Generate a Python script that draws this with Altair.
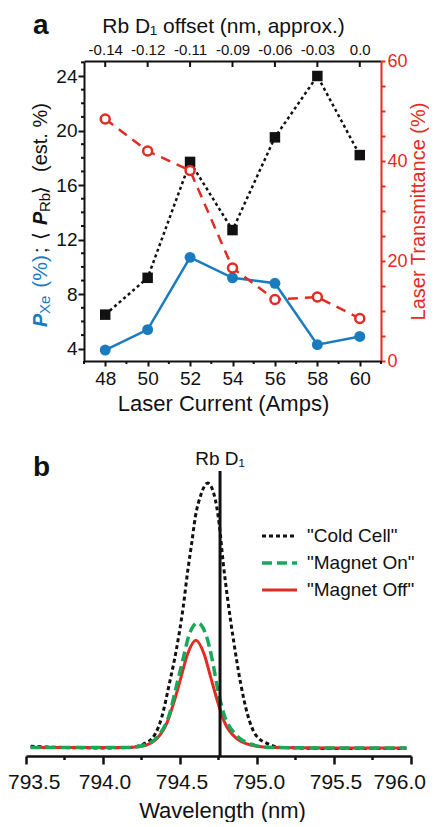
import altair as alt
import pandas as pd

# ---------------- Panel a data ----------------
current = [48, 50, 52, 54, 56, 58, 60]
p_rb = [6.5, 9.2, 17.7, 12.7, 19.5, 24.0, 18.2]
p_xe = [3.9, 5.4, 10.7, 9.2, 8.8, 4.3, 4.9]
transmittance = [48.4, 42.0, 38.1, 18.6, 12.3, 12.8, 8.5]
offset_labels = ["-0.14", "-0.12", "-0.11", "-0.09", "-0.06", "-0.03", "0.0"]
current_minor = [47, 49, 51, 53, 55, 57, 59, 61]
left_major = [4, 8, 12, 16, 20, 24]
left_minor = [5, 6, 7, 9, 10, 11, 13, 14, 15, 17, 18, 19, 21, 22, 23, 25]

# ---------------- Panel b data ----------------
cold_wl = [793.53, 793.80, 794.00, 794.17, 794.30, 794.38, 794.43, 794.475, 794.52, 794.55,
           794.575, 794.60, 794.635, 794.68, 794.72, 794.755, 794.78, 794.81, 794.85, 794.895,
           794.94, 794.99, 795.08, 795.15, 795.50, 795.97]
cold_val = [0.014, 0.009, 0.008, 0.010, 0.034, 0.12, 0.245, 0.37, 0.53, 0.667,
            0.767, 0.87, 0.95, 0.995, 0.955, 0.84, 0.70, 0.56, 0.40, 0.245,
            0.13, 0.058, 0.021, 0.010, 0.006, 0.006]
on_wl = [793.53, 794.00, 794.17, 794.28, 794.366, 794.431, 794.474, 794.517, 794.56, 794.614,
         794.668, 794.711, 794.743, 794.786, 794.862, 794.97, 795.07, 795.50, 795.97]
on_val = [0.010, 0.010, 0.010, 0.021, 0.058, 0.133, 0.232, 0.332, 0.431, 0.474,
          0.431, 0.332, 0.232, 0.133, 0.058, 0.021, 0.010, 0.008, 0.008]
off_wl = [793.53, 794.00, 794.17, 794.258, 794.355, 794.42, 794.463, 794.506, 794.549, 794.603,
          794.657, 794.70, 794.743, 794.786, 794.862, 794.99, 795.10, 795.50, 795.97]
off_val = [0.010, 0.010, 0.010, 0.015, 0.046, 0.108, 0.183, 0.27, 0.357, 0.409,
           0.357, 0.27, 0.183, 0.108, 0.046, 0.015, 0.010, 0.008, 0.008]
rb_d1 = 794.76
series_names = ['"Cold Cell"', '"Magnet On"', '"Magnet Off"']
wl_major = [793.5, 794.0, 794.5, 795.0, 795.5, 796.0]
wl_labels = ["793.5", "794.0", "794.5", "795.0", "795.5", "796.0"]
wl_minor = [793.75, 794.25, 794.75, 795.25, 795.75]

BLACK = "#111111"
BLUE = "#1b7bbf"
RED = "#e12b23"
GREEN = "#17a85a"
FONT = "Liberation Sans"

one = pd.DataFrame({"k": [0]})

# layout (pixels inside the single plot area, origin = top-left of panel a)
H = 695          # from top of panel a to bottom axis of panel b
HA = 300         # panel a height
B0 = 410         # top of panel b


def txt(text, x, y, size=20, color=BLACK, weight="normal", style="normal",
        angle=270, align="left", baseline="alphabetic"):
    return alt.Chart(one).mark_text(text=text, fontSize=size, color=color,
                                    fontWeight=weight, fontStyle=style, angle=angle,
                                    align=align, baseline=baseline, font=FONT).encode(
        x=alt.value(x), y=alt.value(y))


# ================= Panel a =================
df_a = pd.DataFrame({"current": current, "p_rb": p_rb, "p_xe": p_xe, "trans": transmittance})

xs = alt.Scale(domain=[47, 61], nice=False, zero=False)
yl = alt.Scale(domain=[3.1, 25.1], range=[HA, 0], nice=False, zero=False)
yr = alt.Scale(domain=[0, 60], range=[HA, 0], nice=False, zero=True)

bottom_axis = alt.Axis(orient="bottom", offset=-(H - HA), values=current,
                       labelOverlap=False, title="Laser Current (Amps)",
                       titleFontSize=22, titleFontWeight="normal", labelFontSize=19,
                       titleX=139, titleAnchor="middle",
                       tickSize=5, tickWidth=2, domainWidth=2, domainColor=BLACK,
                       tickColor=BLACK, labelColor=BLACK, titleColor=BLACK,
                       labelPadding=3, titlePadding=5, grid=False)
left_axis = alt.Axis(orient="left", values=left_major,
                     labelOverlap=False, title=None, labelFontSize=19,
                     tickSize=6, tickWidth=2, domainWidth=2, domainColor=BLACK,
                     tickColor=BLACK, labelColor=BLACK, labelPadding=1, grid=False)
right_axis = alt.Axis(orient="right", values=list(range(0, 61, 5)),
                      labelExpr="datum.value % 20 == 0 ? datum.label : ''",
                      labelOverlap=False, title="Laser Transmittance (%)",
                      titleAngle=270, titleBaseline="top", titleFontSize=20,
                      titleFontWeight="normal",
                      labelFontSize=18, tickSize=4, tickWidth=2, domainWidth=2,
                      domainColor=RED, tickColor=RED, labelColor=RED, titleColor=RED,
                      labelPadding=2, titlePadding=1, grid=False)
label_array = "[" + ",".join("'" + s + "'" for s in offset_labels) + "]"
top_axis = alt.Axis(orient="top", values=current,
                    labelExpr=label_array + "[(datum.value - 48) / 2]",
                    labelOverlap=False, title="Rb D\u2081 offset (nm, approx.)",
                    titleFontSize=21, titleFontWeight="normal", labelFontSize=15,
                    titleX=139, titleAnchor="middle",
                    ticks=False, domainWidth=2, domainColor=BLACK, labelColor=BLACK,
                    titleColor=BLACK, labelPadding=4, titlePadding=6, grid=False)

base_a = alt.Chart(df_a)
rb_line = base_a.mark_line(color=BLACK, strokeWidth=2.5, strokeDash=[3, 3]).encode(
    x=alt.X("current:Q", scale=xs, axis=bottom_axis),
    y=alt.Y("p_rb:Q", scale=yl, axis=left_axis))
rb_pts = base_a.mark_square(color=BLACK, size=110, opacity=1).encode(
    x=alt.X("current:Q", scale=xs, axis=None),
    y=alt.Y("p_rb:Q", scale=yl, axis=None))
xe_line = base_a.mark_line(color=BLUE, strokeWidth=2.5).encode(
    x=alt.X("current:Q", scale=xs, axis=None),
    y=alt.Y("p_xe:Q", scale=yl, axis=None))
xe_pts = base_a.mark_circle(color=BLUE, size=120, opacity=1).encode(
    x=alt.X("current:Q", scale=xs, axis=None),
    y=alt.Y("p_xe:Q", scale=yl, axis=None))
tr_line = base_a.mark_line(color=RED, strokeWidth=2.5, strokeDash=[10, 7]).encode(
    x=alt.X("current:Q", scale=xs, axis=None),
    y=alt.Y("trans:Q", scale=yr, axis=right_axis))
tr_pts = base_a.mark_point(shape="circle", size=81, stroke=RED, strokeWidth=2.5,
                           fill="white", fillOpacity=1, opacity=1).encode(
    x=alt.X("current:Q", scale=xs, axis=None),
    y=alt.Y("trans:Q", scale=yr, axis=None))
top_ticks = base_a.mark_rule(color=BLACK, strokeWidth=2).encode(
    x=alt.X("current:Q", scale=xs, axis=top_axis),
    y=alt.value(0), y2=alt.value(6))
# minor ticks
x_minor = alt.Chart(pd.DataFrame({"c": current_minor})).mark_rule(
    color=BLACK, strokeWidth=2).encode(
    x=alt.X("c:Q", scale=xs, axis=None), y=alt.value(HA), y2=alt.value(HA + 3))
y_minor = alt.Chart(pd.DataFrame({"v": left_minor})).transform_filter(
    alt.datum.v <= 25).mark_rule(color=BLACK, strokeWidth=2).encode(
    y=alt.Y("v:Q", scale=yl, axis=None), x=alt.value(-3), x2=alt.value(0))

# left (two-colour) axis title, reading bottom to top
ylab = [
    txt("P", -37, 266, color=BLUE, weight="bold", style="italic"),
    txt("Xe", -34, 253, size=15, color=BLUE),
    txt("(%)", -37, 194, size=21, color=BLUE, align="right"),
    txt(";", -37, 192),
    txt("\u27e8", -37, 179),
    txt("P", -37, 164, weight="bold", style="italic"),
    txt("Rb", -34, 151, size=15),
    txt("\u27e9", -37, 133),
    txt("(est. %)", -37, 111),
]
label_a = txt("a", -51, -27, size=28, weight="bold", angle=0)
spacer = alt.Chart(one).mark_rule(strokeOpacity=0, opacity=0).encode(
    x=alt.value(-76), y=alt.value(100), y2=alt.value(101))

# ================= Panel b =================
df_b = pd.concat([
    pd.DataFrame({"wl": cold_wl, "val": cold_val, "series": series_names[0]}),
    pd.DataFrame({"wl": on_wl, "val": on_val, "series": series_names[1]}),
    pd.DataFrame({"wl": off_wl, "val": off_val, "series": series_names[2]}),
])
xb = alt.Scale(domain=[793.5, 796.0], range=[-58, 327], nice=False, zero=False)
yb = alt.Scale(domain=[-0.022, 1.04], range=[H, B0], nice=False, zero=False)
wl_axis = alt.Axis(orient="bottom", values=wl_major, labels=False,
                   title="Wavelength (nm)", titleFontSize=22, titleFontWeight="normal",
                   titleX=138, titleAnchor="middle",
                   tickSize=8, tickWidth=2.5, domainWidth=2.5,
                   domainColor=BLACK, tickColor=BLACK, titleColor=BLACK,
                   titlePadding=35, grid=False)

styles = {
    series_names[0]: dict(color=BLACK, strokeDash=[4, 3], strokeWidth=3),
    series_names[1]: dict(color=GREEN, strokeDash=[10, 5], strokeWidth=3.5),
    series_names[2]: dict(color=RED, strokeWidth=3),
}


def curve(name, with_axis=False):
    return alt.Chart(df_b).transform_filter(alt.datum.series == name).mark_line(
        interpolate="monotone", **styles[name]).encode(
        x=alt.X("wl:Q", scale=xb, axis=wl_axis if with_axis else None),
        y=alt.Y("val:Q", scale=yb, axis=None))


wl_minor_ticks = alt.Chart(pd.DataFrame({"wl": wl_minor})).mark_rule(
    color=BLACK, strokeWidth=2.5).encode(
    x=alt.X("wl:Q", scale=xb, axis=None), y=alt.value(H), y2=alt.value(H + 4))

df_lab = pd.DataFrame({"wl": wl_major, "label": wl_labels})


def wl_label_layer(cond, align, dx):
    return alt.Chart(df_lab).transform_filter(cond).mark_text(
        align=align, dx=dx, baseline="top", fontSize=21, color=BLACK, font=FONT).encode(
        x=alt.X("wl:Q", scale=xb, axis=None), y=alt.value(H + 16), text="label:N")


# first tick label sits flush with the left edge of the figure
first_label = alt.Chart(df_lab).transform_filter(alt.datum.wl < 793.6).mark_text(
    align="left", baseline="top", fontSize=21, color=BLACK, font=FONT).encode(
    x=alt.value(-76), y=alt.value(H + 16), text="label:N")

wl_labels_layers = [
    first_label,
    wl_label_layer((alt.datum.wl > 793.6) & (alt.datum.wl < 795.9), "center", 2),
    wl_label_layer(alt.datum.wl > 795.9, "right", 15),
]

df_d1 = pd.DataFrame({"wl": [rb_d1]})
d1_rule = alt.Chart(df_d1).mark_rule(color=BLACK, strokeWidth=3).encode(
    x=alt.X("wl:Q", scale=xb, axis=None), y=alt.value(B0), y2=alt.value(H))
d1_text = alt.Chart(df_d1).mark_text(text="Rb D\u2081", fontSize=19, color=BLACK,
                                     baseline="alphabetic", font=FONT).encode(
    x=alt.X("wl:Q", scale=xb, axis=None), y=alt.value(B0 - 6))

legend_layers = []
for i, name in enumerate(series_names):
    st = styles[name]
    ly = B0 + 65 + 27 * i
    legend_layers.append(alt.Chart(one).mark_rule(**st).encode(
        x=alt.value(178), x2=alt.value(213), y=alt.value(ly)))
    legend_layers.append(txt(name, 223, ly, size=19, angle=0, baseline="middle"))

label_b = txt("b", -51, B0 + 5, size=28, weight="bold", angle=0)

chart = alt.layer(
    rb_line, rb_pts, xe_line, xe_pts, tr_line, tr_pts, top_ticks, x_minor, y_minor,
    *ylab, label_a, spacer,
    curve(series_names[0], True), curve(series_names[2]), curve(series_names[1]),
    wl_minor_ticks, *wl_labels_layers,
    d1_rule, d1_text, *legend_layers, label_b,
).resolve_scale(x="independent", y="independent").resolve_axis(
    x="independent", y="independent"
).properties(
    width=421, height=H,
    autosize=alt.AutoSizeParams(type="fit-x", contains="padding"),
    padding={"left": 0, "top": 4, "right": 0, "bottom": 0},
).configure_view(stroke=None).configure_axis(
    labelFont=FONT, titleFont=FONT
).configure_text(font=FONT)

chart.save("out.html", embed_options={"renderer": "svg", "actions": False})
